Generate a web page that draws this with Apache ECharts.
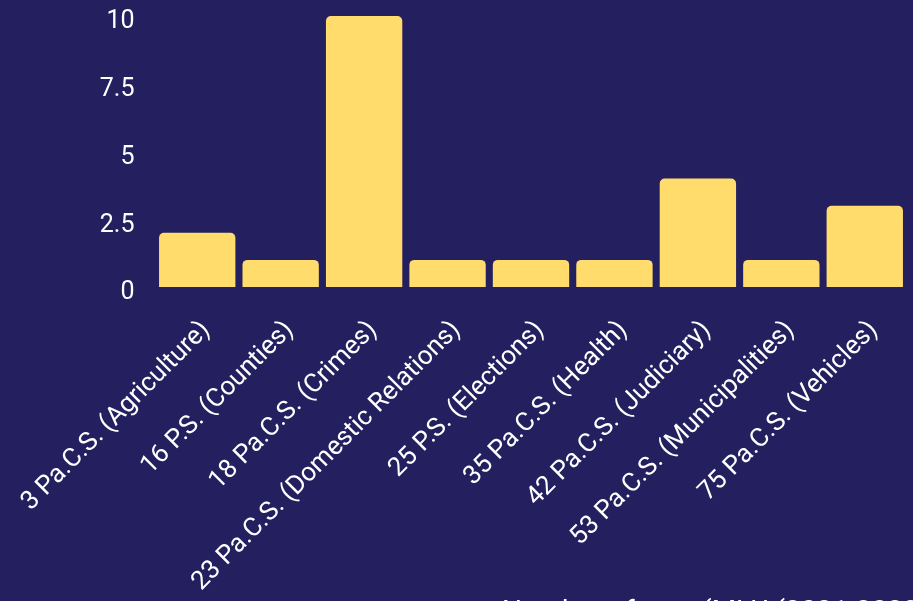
<!DOCTYPE html>
<html>
<head>
<meta charset="utf-8">
<script src="https://cdn.jsdelivr.net/npm/echarts@6/dist/echarts.min.js"></script>
<style>
html,body{margin:0;padding:0;background:#241f5f;}
#c{width:913px;height:601px;}
</style>
</head>
<body>
<div id="c"></div>
<script>
const categories = [
  "3 Pa.C.S. (Agriculture)",
  "16 P.S. (Counties)",
  "18 Pa.C.S. (Crimes)",
  "23 Pa.C.S. (Domestic Relations)",
  "25 P.S. (Elections)",
  "35 Pa.C.S. (Health)",
  "42 Pa.C.S. (Judiciary)",
  "53 Pa.C.S. (Municipalities)",
  "75 Pa.C.S. (Vehicles)"
];
const values = [2, 1, 10, 1, 1, 1, 4, 1, 3];
const yTicks = [0, 2.5, 5, 7.5, 10];
const axisTitle = "Number of acts (MLU (2021-2022)";

const chart = echarts.init(document.getElementById('c'), null, {renderer:'canvas'});
chart.setOption({
  backgroundColor: '#241f5f',
  animation: false,
  textStyle: { fontFamily: 'Roboto' },
  grid: { left: 155.5, right: 6.5, top: 16, bottom: 314, containLabel: false },
  xAxis: {
    type: 'category',
    data: categories,
    axisLine: { show: false },
    axisTick: { show: false },
    axisLabel: {
      color: '#ffffff',
      fontSize: 26,
      fontFamily: 'Roboto',
      rotate: 45,
      interval: 0,
      margin: 30,
      verticalAlign: 'top'
    }
  },
  yAxis: {
    type: 'value',
    min: yTicks[0],
    max: yTicks[yTicks.length - 1],
    interval: yTicks[1] - yTicks[0],
    splitLine: { show: false },
    axisLine: { show: false },
    axisTick: { show: false },
    axisLabel: {
      color: '#ffffff',
      fontSize: 25,
      fontFamily: 'Roboto',
      margin: 21,
      verticalAlign: 'top',
      lineHeight: 12,
      formatter: v => String(v)
    }
  },
  graphic: [{
    type: 'text',
    left: 502,
    top: 599,
    style: { text: axisTitle, fill: '#ffffff', font: '28px Roboto' }
  }],
  series: [{
    type: 'bar',
    data: values,
    barCategoryGap: '8.5%',
    itemStyle: { color: '#ffdc6b', borderRadius: [5, 5, 0, 0] }
  }]
});
</script>
</body>
</html>
